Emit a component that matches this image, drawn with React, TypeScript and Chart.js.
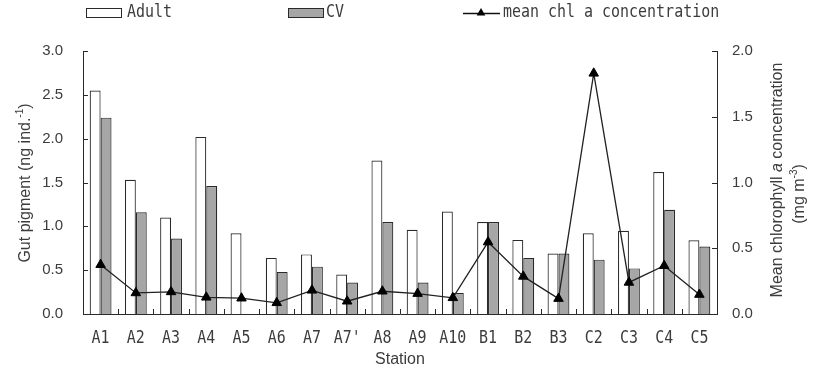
import { useEffect, useRef } from "react";
import { Chart, registerables } from "chart.js";

Chart.register(...registerables);

// Stations along the transect
const stations = ["A1", "A2", "A3", "A4", "A5", "A6", "A7", "A7'", "A8", "A9", "A10", "B1", "B2", "B3", "C2", "C3", "C4", "C5"];

// Gut pigment content (ng ind.^-1)
const adultPigment = [2.55, 1.53, 1.1, 2.02, 0.92, 0.64, 0.68, 0.45, 1.75, 0.96, 1.17, 1.05, 0.845, 0.69, 0.92, 0.95, 1.62, 0.84];
const cvPigment = [2.24, 1.16, 0.86, 1.46, 0, 0.48, 0.54, 0.36, 1.05, 0.36, 0.24, 1.05, 0.64, 0.69, 0.62, 0.52, 1.19, 0.77];

// Mean chlorophyll a concentration (mg m^-3)
const meanChl = [0.375, 0.16, 0.168, 0.127, 0.12, 0.085, 0.18, 0.097, 0.173, 0.155, 0.123, 0.547, 0.286, 0.117, 1.83, 0.24, 0.367, 0.148];

// Axis tick values
const pigmentTicks = [0, 0.5, 1.0, 1.5, 2.0, 2.5, 3.0];
const chlTicks = [0, 0.5, 1.0, 1.5, 2.0];

const INK = "#2a2a2a";
const TEXT = "#3c3c3c";
const CV_FILL = "#a6a6a6";
const SANS = '"Liberation Sans", Arial, sans-serif';
const MONO = '"DejaVu Sans Mono", monospace';
const MONO_SIZE = 17;
const MONO_SX = 0.88;

function condensedText(ctx: CanvasRenderingContext2D, text: string, x: number, y: number, align: "left" | "center") {
  ctx.save();
  ctx.font = `${MONO_SIZE}px ${MONO}`;
  const w = ctx.measureText(text).width * MONO_SX;
  const x0 = align === "center" ? x - w / 2 : x;
  ctx.translate(x0, y);
  ctx.scale(MONO_SX, 1);
  ctx.textAlign = "left";
  ctx.textBaseline = "middle";
  ctx.fillStyle = TEXT;
  ctx.fillText(text, 0, 0);
  ctx.restore();
}

function triangle(ctx: CanvasRenderingContext2D, x: number, y: number, r: number) {
  ctx.beginPath();
  ctx.moveTo(x, y - r);
  ctx.lineTo(x + r * 0.866, y + r * 0.5);
  ctx.lineTo(x - r * 0.866, y + r * 0.5);
  ctx.closePath();
  ctx.fill();
}

type Run = { text: string; font: string; rise?: number };

// Draws a sequence of text runs rotated -90deg, centred on (cx, cy)
function rotatedRuns(ctx: CanvasRenderingContext2D, runs: Run[], cx: number, cy: number) {
  ctx.save();
  let total = 0;
  const widths = runs.map((r) => {
    ctx.font = r.font;
    const w = ctx.measureText(r.text).width;
    total += w;
    return w;
  });
  ctx.translate(cx, cy);
  ctx.rotate(-Math.PI / 2);
  ctx.fillStyle = TEXT;
  ctx.textAlign = "left";
  ctx.textBaseline = "middle";
  let pos = -total / 2;
  runs.forEach((r, i) => {
    ctx.font = r.font;
    ctx.fillText(r.text, pos, -(r.rise || 0));
    pos += widths[i];
  });
  ctx.restore();
}

const decorations = {
  id: "decorations",
  afterDraw(chart: any) {
    const ctx: CanvasRenderingContext2D = chart.ctx;
    const { left, right, bottom } = chart.chartArea;
    const x = chart.scales.x;
    const y = chart.scales.y;
    const y1 = chart.scales.y1;
    ctx.save();
    ctx.strokeStyle = INK;
    ctx.lineWidth = 1;

    // inward tick marks between stations and on both value axes
    const step = x.getPixelForValue(1) - x.getPixelForValue(0);
    ctx.beginPath();
    for (let i = 1; i < stations.length; i++) {
      const px = Math.round(x.getPixelForValue(i) - step / 2) + 0.5;
      ctx.moveTo(px, bottom);
      ctx.lineTo(px, bottom - 5);
    }
    pigmentTicks.forEach((v) => {
      const py = Math.round(y.getPixelForValue(v)) + 0.5;
      ctx.moveTo(left, py);
      ctx.lineTo(left + 5, py);
    });
    chlTicks.forEach((v) => {
      const py = Math.round(y1.getPixelForValue(v)) + 0.5;
      ctx.moveTo(right, py);
      ctx.lineTo(right - 5, py);
    });
    ctx.stroke();

    // station labels
    stations.forEach((s, i) => condensedText(ctx, s, x.getPixelForValue(i), 339, "center"));

    // axis titles
    ctx.fillStyle = TEXT;
    ctx.font = `16px ${SANS}`;
    ctx.textAlign = "center";
    ctx.textBaseline = "middle";
    ctx.fillText("Station", (left + right) / 2, 360);

    rotatedRuns(
      ctx,
      [
        { text: "Gut pigment (ng ind.", font: `16px ${SANS}` },
        { text: "-1", font: `10px ${SANS}`, rise: 6 },
        { text: ")", font: `16px ${SANS}` },
      ],
      26,
      183
    );
    rotatedRuns(
      ctx,
      [
        { text: "Mean chlorophyll ", font: `16px ${SANS}` },
        { text: "a", font: `italic 16px ${SANS}` },
        { text: " concentration", font: `16px ${SANS}` },
      ],
      778,
      180
    );
    rotatedRuns(
      ctx,
      [
        { text: "(mg m", font: `16px ${SANS}` },
        { text: "-3", font: `10px ${SANS}`, rise: 6 },
        { text: ")", font: `16px ${SANS}` },
      ],
      800,
      194
    );

    // legend
    ctx.strokeStyle = INK;
    ctx.lineWidth = 1;
    ctx.fillStyle = "#fff";
    ctx.fillRect(86.5, 8.5, 35, 9);
    ctx.strokeRect(86.5, 8.5, 35, 9);
    condensedText(ctx, "Adult", 127, 13, "left");

    ctx.fillStyle = CV_FILL;
    ctx.fillRect(288.5, 8.5, 35, 9);
    ctx.strokeRect(288.5, 8.5, 35, 9);
    condensedText(ctx, "CV", 326, 13, "left");

    ctx.strokeStyle = "#111";
    ctx.lineWidth = 1.3;
    ctx.beginPath();
    ctx.moveTo(463, 13.5);
    ctx.lineTo(500, 13.5);
    ctx.stroke();
    ctx.fillStyle = "#000";
    triangle(ctx, 481, 13, 5);
    condensedText(ctx, "mean chl a concentration", 503, 13, "left");

    ctx.restore();
  },
};

export default function App() {
  const canvasRef = useRef<HTMLCanvasElement | null>(null);

  useEffect(() => {
    const canvas = canvasRef.current;
    if (!canvas) return;
    const tickFont = { family: SANS, size: 15 };
    const chart = new Chart(canvas, {
      type: "bar",
      data: {
        labels: stations,
        datasets: [
          {
            type: "line",
            label: "mean chl a concentration",
            data: meanChl,
            yAxisID: "y1",
            borderColor: "#222",
            borderWidth: 1.3,
            pointStyle: "triangle",
            pointRadius: 5.5,
            pointBackgroundColor: "#000",
            pointBorderColor: "#000",
            pointBorderWidth: 1,
            tension: 0,
            fill: false,
            order: 0,
          } as any,
          {
            type: "bar",
            label: "Adult",
            data: adultPigment,
            yAxisID: "y",
            backgroundColor: "#fff",
            borderColor: INK,
            borderWidth: 1.2,
            categoryPercentage: 0.62,
            barPercentage: 1,
            order: 1,
          },
          {
            type: "bar",
            label: "CV",
            data: cvPigment,
            yAxisID: "y",
            backgroundColor: CV_FILL,
            borderColor: INK,
            borderWidth: 1.2,
            categoryPercentage: 0.62,
            barPercentage: 1,
            order: 1,
          },
        ],
      },
      options: {
        animation: false,
        responsive: true,
        maintainAspectRatio: false,
        layout: { padding: { top: 51, left: 0, right: 0, bottom: 0 } },
        plugins: { legend: { display: false }, tooltip: { enabled: false } },
        scales: {
          x: {
            type: "category",
            offset: true,
            grid: { display: false, drawTicks: false },
            border: { display: true, color: INK, width: 1 },
            ticks: { display: false },
            afterFit: (s: any) => {
              s.height = 62;
            },
          },
          y: {
            position: "left",
            min: 0,
            max: 3,
            afterBuildTicks: (s: any) => {
              s.ticks = pigmentTicks.map((v) => ({ value: v }));
            },
            ticks: {
              callback: (v: any) => Number(v).toFixed(1),
              font: tickFont,
              color: TEXT,
              padding: 20,
            },
            grid: { display: false, drawTicks: false },
            border: { display: true, color: INK, width: 1 },
            afterFit: (s: any) => {
              s.width = 83;
            },
          },
          y1: {
            position: "right",
            min: 0,
            max: 2,
            afterBuildTicks: (s: any) => {
              s.ticks = chlTicks.map((v) => ({ value: v }));
            },
            ticks: {
              callback: (v: any) => Number(v).toFixed(1),
              font: tickFont,
              color: TEXT,
              padding: 15,
            },
            grid: { display: false, drawTicks: false },
            border: { display: true, color: INK, width: 1 },
            afterFit: (s: any) => {
              s.width = 101;
            },
          },
        },
      },
      plugins: [decorations],
    });
    return () => chart.destroy();
  }, []);

  return (
    <div style={{ position: "absolute", left: 0, top: 0, width: 818, height: 376, background: "#fff" }}>
      <canvas ref={canvasRef} />
    </div>
  );
}
